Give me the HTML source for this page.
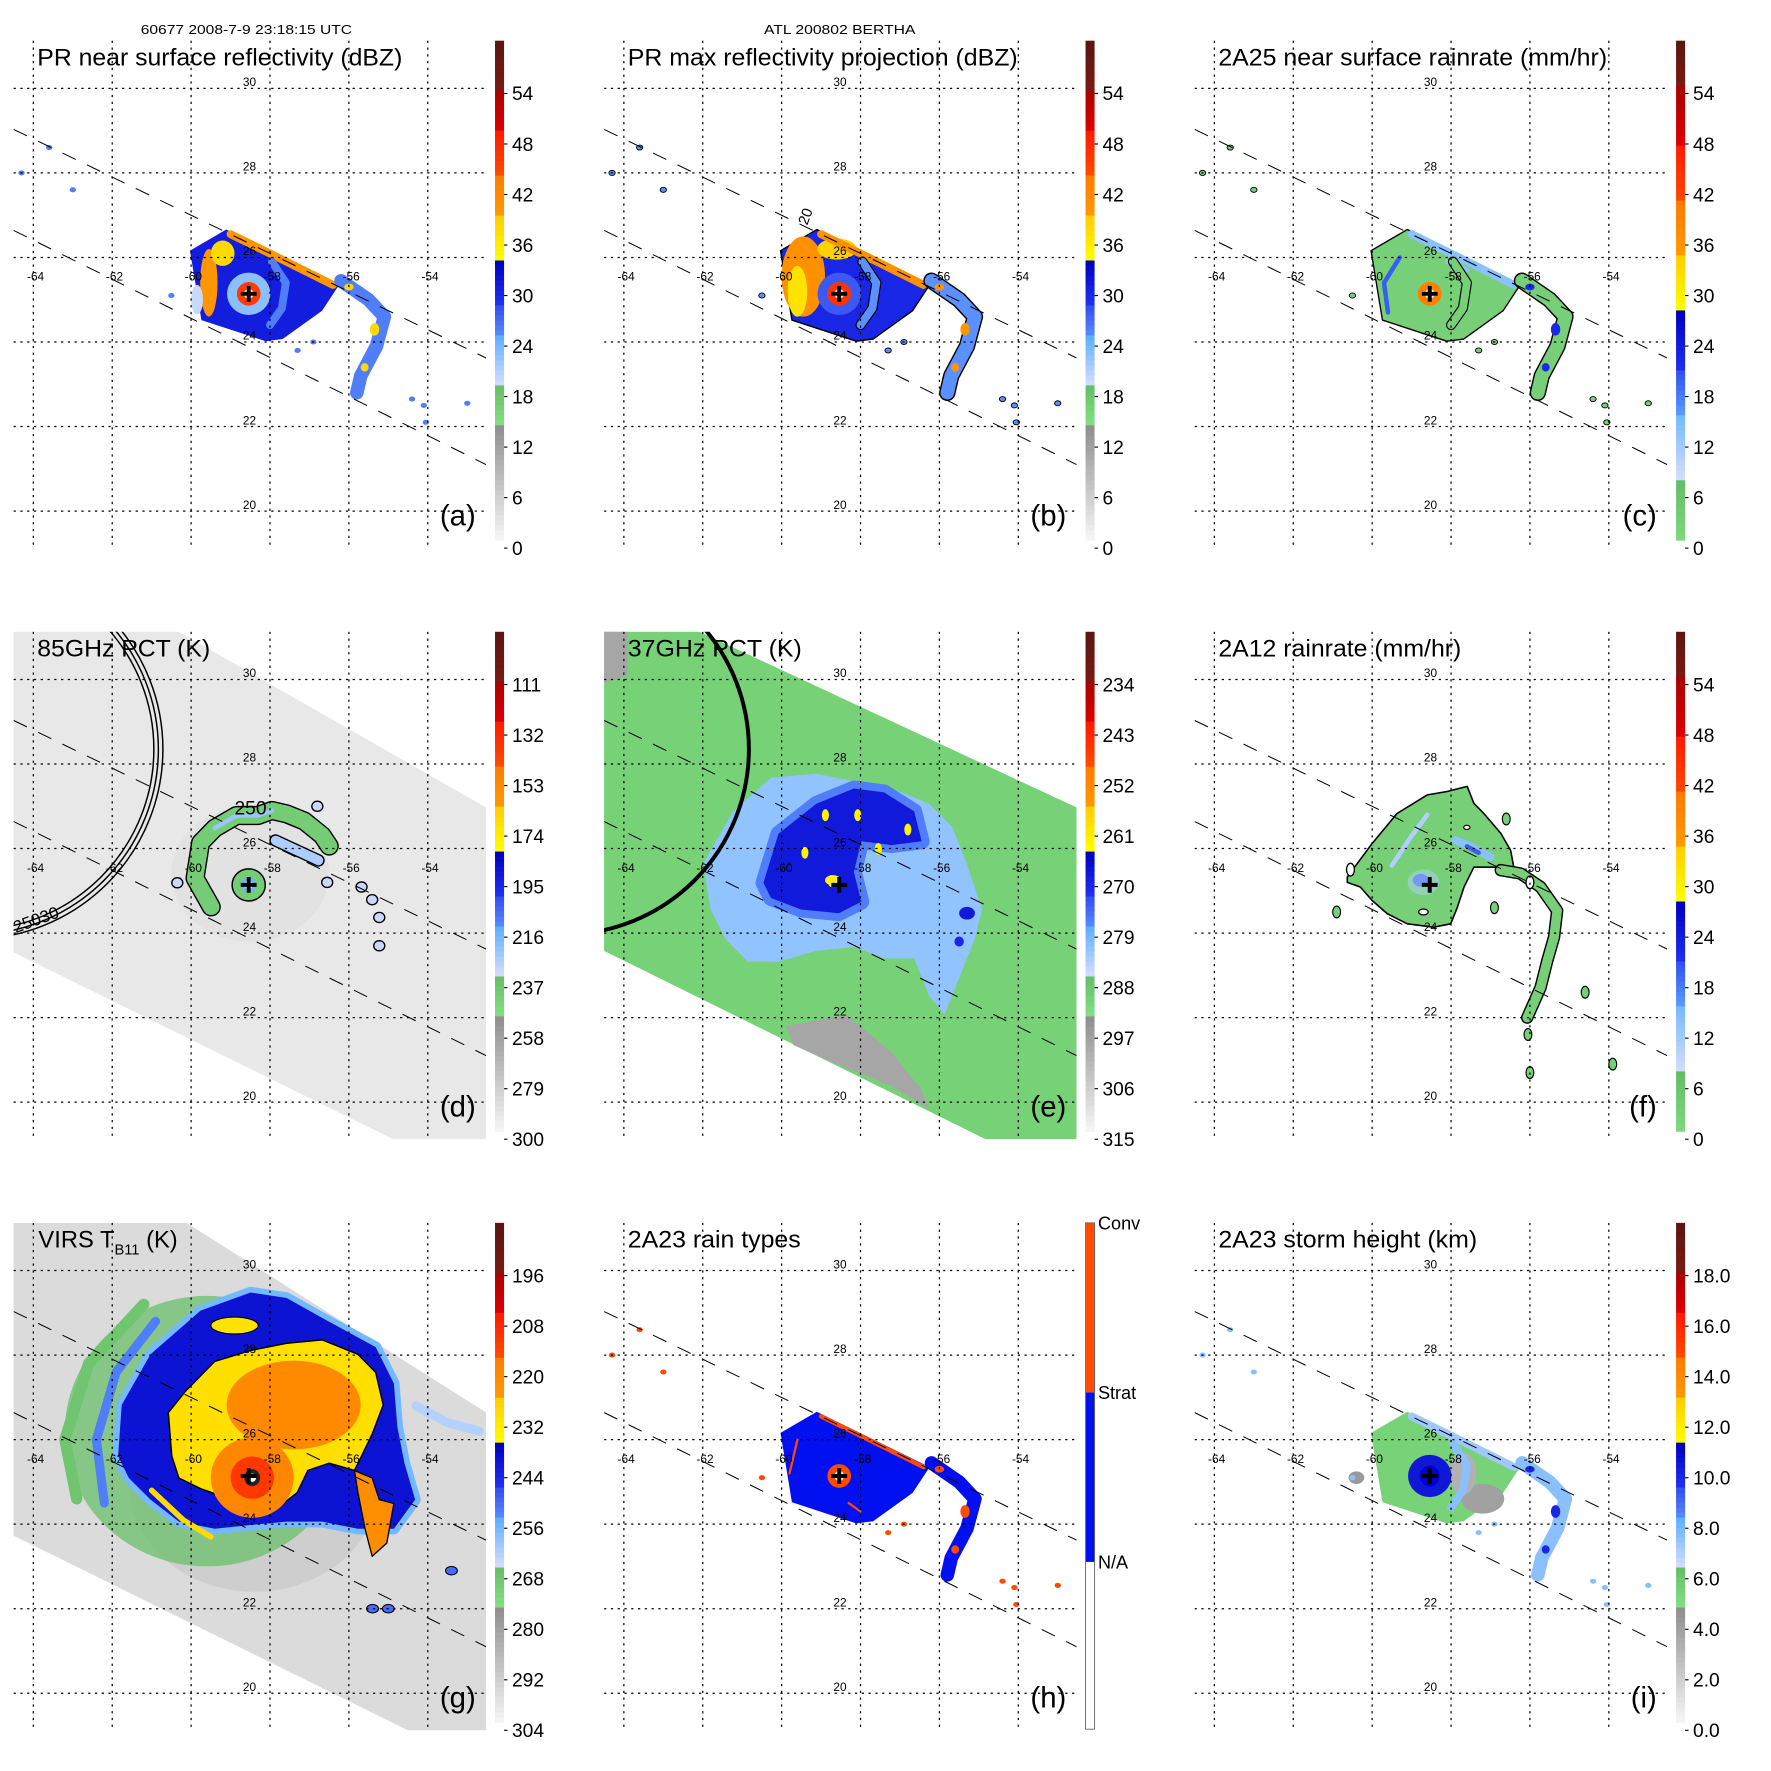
<!DOCTYPE html>
<html><head><meta charset="utf-8"><title>TRMM Bertha 2008 panels</title>
<style>
html,body{margin:0;padding:0;background:#fff;}
svg{display:block;font-family:"Liberation Sans",sans-serif;}
</style></head>
<body>
<svg id="fig" xmlns="http://www.w3.org/2000/svg" width="1771" height="1771" viewBox="0 0 1567 1567"></svg>
<script>
// ---------- tick label arrays (bottom to top) ----------
const ticksDbz = ['0','6','12','18','24','30','36','42','48','54'];
const ticksRain = ['0','6','12','18','24','30','36','42','48','54'];
const ticks85 = ['300','279','258','237','216','195','174','153','132','111'];
const ticks37 = ['315','306','297','288','279','270','261','252','243','234'];
const ticksVirs = ['304','292','280','268','256','244','232','220','208','196'];
const ticksHeight = ['0.0','2.0','4.0','6.0','8.0','10.0','12.0','14.0','16.0','18.0'];
const rainTypeLabels = ['N/A','Strat','Conv'];
const latTicks = [20,22,24,26,28,30];
const lonTicks = [-64,-62,-60,-58,-56,-54];
const stormCenter = [-58.54,25.14];
const swathUpper = [[-64.5,29.03],[-52.52,23.62]];
const swathLower = [[-64.5,26.64],[-52.52,21.10]];

// ---------- storm feature data (lon/lat, value in panel units) ----------
const prBlock = [[-60.03,26.16],[-59.11,26.66],[-56.25,25.35],[-56.68,24.74],[-57.68,24.07],[-58.11,24.02],[-59.74,24.52]];
const prTopEdge = [[-59.0,26.55],[-57.8,26.0],[-56.4,25.35]];
const prRightBand = [[-56.2,25.45],[-55.5,25.0],[-55.1,24.6],[-55.3,23.9],[-55.7,23.2],[-55.8,22.8]];
const prInnerArc = [[-57.95,25.9],[-57.6,25.4],[-57.7,24.8],[-58.0,24.4]];
const prBits = [[-60.5,25.1],[-56.9,24.0],[-57.3,23.8],[-54.4,22.65],[-54.1,22.5],[-53.0,22.55],[-54.05,22.1],[-64.3,28.0],[-63.6,28.6],[-63.0,27.6]];
const f12Blob = [[-60.63,25.33],[-60.0,26.12],[-59.37,26.83],[-58.6,27.27],[-58.1,27.35],[-57.59,27.47],[-57.42,27.07],[-57.17,26.83],[-56.74,26.36],[-56.49,25.96],[-56.41,25.56],[-57.42,25.56],[-57.67,25.09],[-57.84,24.61],[-58.01,24.22],[-58.44,24.14],[-59.11,24.22],[-59.62,24.46],[-60.0,24.77],[-60.3,25.09],[-60.63,25.2]];
const f12Tail = [[-56.74,25.49],[-56.24,25.41],[-55.73,25.09],[-55.31,24.53],[-55.39,23.9],[-55.56,23.35],[-55.73,22.71],[-56.07,22.0]];
const f12Bits = [[-56.9,24.6],[-60.9,24.5],[-56.0,20.7],[-56.05,21.6],[-53.9,20.9],[-54.6,22.6],[-56.6,26.7]];
const d85Arc = [[-59.49,24.62],[-59.9,25.3],[-59.76,26.14],[-59.4,26.48],[-58.85,26.78],[-58.31,26.78],[-57.95,26.9],[-57.58,26.82],[-57.13,26.65],[-56.68,26.31],[-56.5,26.06]];
const d85Streak = [[-57.86,26.19],[-56.77,25.72]];
const d85Bits = [[-55.68,25.09],[-55.41,24.79],[-55.23,24.37],[-55.23,23.7],[-60.35,25.19],[-56.55,25.2],[-56.8,27.0]];
const e37Light = [[-61.99,25.63],[-61.23,26.88],[-60.27,27.68],[-59.12,27.77],[-58.17,27.59],[-57.21,27.42],[-56.26,27.06],[-55.68,26.52],[-55.3,25.63],[-54.92,24.56],[-55.11,23.85],[-55.49,22.96],[-55.87,22.07],[-56.26,22.51],[-56.64,23.4],[-57.4,23.4],[-58.17,23.67],[-59.12,23.58],[-60.08,23.32],[-60.85,23.32],[-61.42,23.85],[-61.8,24.56]];
const e37Core = [[-60.46,25.19],[-60.08,26.35],[-59.12,27.06],[-58.17,27.42],[-57.4,27.33],[-56.64,26.88],[-56.45,26.17],[-57.21,26.08],[-57.98,26.17],[-58.17,25.45],[-57.98,24.74],[-58.55,24.47],[-59.51,24.56],[-60.27,24.83]];
const e37Yellow = [[-58.74,25.23],[-59.41,25.9],[-58.89,26.79],[-58.07,26.79],[-57.55,25.99],[-56.8,26.45]];
const e37Gray = [[-59.89,21.8],[-58.36,22.07],[-57.21,21.18],[-56.45,20.29],[-56.26,19.84],[-57.21,20.38],[-58.64,20.91],[-59.7,21.35]];
const vYellow = [[-60.49,25.61],[-60.58,26.64],[-60.13,27.16],[-59.4,27.85],[-58.49,28.11],[-57.58,28.28],[-56.68,28.36],[-55.77,28.02],[-55.32,27.59],[-55.13,26.82],[-55.41,26.13],[-55.68,25.61],[-55.86,25.27],[-56.5,25.44],[-57.04,25.27],[-57.31,24.75],[-57.77,24.41],[-58.49,24.49],[-59.22,24.66],[-59.76,24.84],[-60.31,25.09]];
const vTongue = [[-55.86,25.27],[-55.41,25.09],[-55.23,24.58],[-54.86,24.49],[-55.04,23.55],[-55.41,23.24],[-55.59,23.89],[-55.77,24.75]];
const vBlue = [[-61.85,25.61],[-61.76,26.82],[-61.03,28.02],[-59.76,29.05],[-58.49,29.48],[-57.58,29.35],[-56.68,28.88],[-55.32,28.19],[-54.86,27.33],[-54.77,26.3],[-54.59,25.44],[-54.32,24.58],[-54.86,23.89],[-55.77,23.89],[-56.68,24.06],[-57.58,24.06],[-58.49,23.98],[-59.4,23.89],[-60.31,24.06],[-61.03,24.58],[-61.58,25.09]];
const vBits = [[-53.4,22.9],[-55.4,22.0],[-55.0,22.0]];
const swathD = [[-64.53,31.13],[-60.32,31.13],[-52.5,26.96],[-52.5,19.12],[-54.87,19.12],[-64.53,23.56]];
const swathE = [[-64.53,31.13],[-62.09,31.13],[-52.52,26.97],[-52.52,19.12],[-54.82,19.12],[-64.53,23.59]];
const swathG = [[-64.53,31.13],[-60.12,31.13],[-52.5,26.63],[-52.5,19.12],[-54.5,19.12],[-64.53,23.74]];
const limbCircle = [-65.53,28.35,4.7];

// ---------- colormaps ----------
const segA=[[-1,1,'#ffffff','#ffffff'],[1,14.5,'#f6f6f6','#8e8e8e'],[14.5,19.5,'#84e184','#66bb66'],[19.5,25,'#d4dcff','#5fb0ff'],[25,29,'#5a90ff','#3048f0'],[29,34,'#2030f0','#0000c0'],[34,39.5,'#ffff00','#ffcc00'],[39.5,44.5,'#ff9900','#ff7a00'],[44.5,49.5,'#ff4a00','#ff1a00'],[49.5,54.5,'#dd0000','#a80000'],[54.5,62,'#781a12','#501510']];
const segC=[[-1,8.2,'#84e184','#66bb66'],[8.2,16,'#d4dcff','#70b8ff'],[16,21,'#5a9aff','#3050f0'],[21,28,'#2030f0','#0000c0'],[28,35,'#ffff00','#ffcc00'],[35,41,'#ff9900','#ff7a00'],[41,48,'#ff4a00','#ff1a00'],[48,55,'#dd0000','#a80000'],[55,62,'#781a12','#501510']];
function hx(c){return [1,3,5].map(i=>parseInt(c.substr(i,2),16));}
function mix(a,b,t){const A=hx(a),B=hx(b);return 'rgb('+A.map((v,i)=>Math.round(v+(B[i]-v)*t)).join(',')+')';}
function cm(seg,l){for(const s of seg){if(l>=s[0]&&l<s[1]){return mix(s[2],s[3],(l-s[0])/(s[1]-s[0]));}}return l<0?seg[0][2]:seg[seg.length-1][3];}

// ---------- geo axes ----------
function X(lon){return 29.5+(lon+64)*34.9;}
function Y(lat){return 78.2+(30-lat)*37.4;}
const NS='http://www.w3.org/2000/svg';
const svg=document.getElementById('fig');
function mk(tag,parent){const e=document.createElementNS(NS,tag);parent.appendChild(e);return e;}
function pts(a){return a.map(p=>X(p[0]).toFixed(1)+','+Y(p[1]).toFixed(1)).join(' ');}

const colX=[0,522.5,1045], rowY=[0,523,1046];

function poly(g,a,fill,stroke,sw){const e=mk('polygon',g);e.setAttribute('points',pts(a));e.setAttribute('fill',fill);if(stroke){e.setAttribute('stroke',stroke);e.setAttribute('stroke-width',sw||1.2);}e.setAttribute('stroke-linejoin','round');return e;}
function line(g,a,color,w){const e=mk('polyline',g);e.setAttribute('points',pts(a));e.setAttribute('fill','none');e.setAttribute('stroke',color);e.setAttribute('stroke-width',w);e.setAttribute('stroke-linecap','round');e.setAttribute('stroke-linejoin','round');return e;}
function ell(g,c,rx,ry,fill,stroke,sw){const e=mk('ellipse',g);e.setAttribute('cx',X(c[0]));e.setAttribute('cy',Y(c[1]));e.setAttribute('rx',rx*34.9);e.setAttribute('ry',ry*37.4);e.setAttribute('fill',fill);if(stroke){e.setAttribute('stroke',stroke);e.setAttribute('stroke-width',sw||1.2);}return e;}

const defs=mk('defs',svg);
const cp=mk('clipPath',defs);cp.setAttribute('id','mapclip');
const cr=mk('rect',cp);cr.setAttribute('x',12);cr.setAttribute('y',36);cr.setAttribute('width',418);cr.setAttribute('height',449);

function drawPR(g,col,mode){
  const A=l=>cm(segA,l), C=l=>cm(segC,l);
  const conv='#ff4a00', strat='#0010f0';
  let base, edge, ring1, ring2, eye='#ffffff', band, bandSpot, outline=null;
  if(mode==='a'){base=A(31);edge=A(40);ring1=A(23);ring2=A(46);band=A(26);bandSpot=A(38);}
  if(mode==='b'){base=A(30);edge=A(41);ring1=A(28);ring2=A(47);band=A(25);bandSpot=A(40);outline='#000';}
  if(mode==='c'){base=C(3);edge=C(14);ring1=C(3);ring2=C(40);band=C(3);bandSpot=C(22);outline='#000';}
  if(mode==='h'){base=strat;edge=conv;ring1=strat;ring2=conv;band=strat;bandSpot=conv;}
  if(mode==='i'){base=A(16.5);edge=A(22);ring1=A(31.5);ring2=A(31.5);band=A(23);bandSpot=A(30);}
  const b=poly(g,prBlock,base,outline,1.2);
  
  
  if(mode==='a'){ell(g,[-59.55,25.4],0.22,0.8,A(40));ell(g,[-59.2,26.1],0.3,0.3,A(38));ell(g,[-59.85,25.0],0.15,0.35,A(20));}
  if(mode==='b'){ell(g,[-59.45,25.55],0.55,0.95,A(41));ell(g,[-59.6,25.2],0.25,0.6,A(37));ell(g,[-58.6,26.2],0.5,0.25,A(39));}
  if(mode==='c'){line(g,[[-59.6,24.7],[-59.7,25.4],[-59.3,26.0]],C(20),4);line(g,[[-58.1,25.9],[-57.6,25.7]],C(14),4);}
  if(mode==='h'){line(g,[[-59.8,25.2],[-59.6,26.0]],conv,2);line(g,[[-58.3,24.5],[-58.0,24.3]],conv,2);}
  if(mode==='i'){ell(g,[-57.2,24.6],0.55,0.35,A(12));ell(g,[-57.7,25.2],0.35,0.5,A(10));ell(g,[-60.4,25.1],0.2,0.15,A(13));}
  line(g,prTopEdge,edge,mode==='h'?4:7);
  ell(g,stormCenter,0.55,0.5,ring1);
  ell(g,stormCenter,0.3,0.28,ring2);
  ell(g,stormCenter,0.12,0.12,eye);
  if(mode==='i'){ell(g,stormCenter,0.25,0.25,'#0000d0');}
  const ia=line(g,prInnerArc,band,mode==='h'?5:7);
  if(outline){const o=line(g,prInnerArc,'#000',9);g.insertBefore(o,ia);}
  const rb=line(g,prRightBand,band,12);
  
  
  if(outline){const o=line(g,prRightBand,'#000',14.5);g.insertBefore(o,rb);}
  ell(g,[-55.35,24.3],0.12,0.15,bandSpot);ell(g,[-55.6,23.4],0.1,0.1,bandSpot);ell(g,[-56.0,25.3],0.12,0.08,bandSpot);
  prBits.forEach(p=>{ell(g,p,0.08,0.06,mode==='h'?conv:(mode==='c'?C(3):band),outline,0.8);});
  if(mode==='b'){const t=mk('text',g);t.setAttribute('x',X(-59.35));t.setAttribute('y',Y(26.75));t.setAttribute('font-size',13);t.setAttribute('transform','rotate(-70 '+X(-59.35)+' '+Y(26.75)+')');t.textContent='20';}
}
function drawD(g){
  const lv=v=>(300-v)/189*54, A=v=>cm(segA,lv(v));
  const s=poly(g,swathD,A(290));
  
  
  ell(g,[-58.5,25.4],2.0,1.6,A(282)).setAttribute('opacity','0.35');
  line(g,d85Arc,'#000',17);line(g,d85Arc,A(240),14.5);
  line(g,d85Arc.slice(3,7),A(222),4);
  line(g,d85Streak,'#000',11);line(g,d85Streak,A(225),8.5);
  ell(g,stormCenter,0.42,0.38,A(240),'#000',1.3);ell(g,stormCenter,0.2,0.18,A(215));ell(g,stormCenter,0.1,0.1,'#fff');
  d85Bits.forEach(p=>ell(g,p,0.14,0.12,A(230),'#000',1.2));
  [-0.5,0,0.5].forEach(dr=>{const c=mk('circle',g);c.setAttribute('cx',X(limbCircle[0]));c.setAttribute('cy',Y(limbCircle[1]));c.setAttribute('r',limbCircle[2]*34.9+dr*8);c.setAttribute('fill','none');c.setAttribute('stroke','#000');c.setAttribute('stroke-width',1.3);});
  const t=mk('text',g);t.setAttribute('x',X(-58.9));t.setAttribute('y',Y(26.8));t.setAttribute('font-size',17);t.textContent='250';
  const t2=mk('text',g);t2.setAttribute('x',14);t2.setAttribute('y',Y(24.0));t2.setAttribute('font-size',15);t2.setAttribute('transform','rotate(-20 14 '+Y(24.0)+')');t2.textContent='25030';
}
function drawE(g){
  const lv=v=>(315-v)/81*54, A=v=>cm(segA,lv(v));
  const s=poly(g,swathE,A(290));
  
  
  poly(g,[[-64.53,31.13],[-63.9,31.13],[-63.9,30.1],[-64.53,29.9]],A(298));
  poly(g,e37Gray,A(298));
  poly(g,e37Light,A(281));
  poly(g,e37Core,A(275),A(276),14);
  poly(g,e37Core,A(268));
  ell(g,[-55.3,24.47],0.2,0.15,A(268));ell(g,[-55.5,23.8],0.12,0.12,A(270));
  e37Yellow.forEach(p=>ell(g,p,0.09,0.14,A(262)));
  ell(g,[-58.7,25.25],0.2,0.12,A(262));
  const c=mk('circle',g);c.setAttribute('cx',X(limbCircle[0]));c.setAttribute('cy',Y(limbCircle[1]));c.setAttribute('r',limbCircle[2]*34.9);c.setAttribute('fill','none');c.setAttribute('stroke','#000');c.setAttribute('stroke-width',3.5);
}
function drawF(g){
  const C=v=>cm(segC,v);
  const b=poly(g,f12Blob,C(3),'#000',1.4);
  
  
  ell(g,[-58.77,25.25],0.2,0.15,C(20));ell(g,[-58.7,25.2],0.4,0.3,C(11)).setAttribute('opacity','0.5');
  line(g,[[-57.9,26.2],[-57.4,26.0],[-57.0,25.8]],C(14),7);line(g,[[-57.6,26.05],[-57.3,25.9]],C(20),4);
  line(g,[[-59.5,25.6],[-59.0,26.3],[-58.6,26.8]],C(11),4);
  ell(g,[-58.7,24.5],0.12,0.07,'#fff','#000',1.1);ell(g,[-57.6,26.5],0.08,0.05,'#fff','#000',1);
  line(g,f12Tail,'#000',11);line(g,f12Tail,C(3),8.5);
  f12Bits.forEach(p=>ell(g,p,0.1,0.14,C(3),'#000',1));
  ell(g,[-60.55,25.5],0.1,0.15,'#fff','#000',1.2);ell(g,[-56.0,25.2],0.1,0.15,'#fff','#000',1.2);
}
function drawG(g){
  const lv=v=>(304-v)/108*54, A=v=>cm(segA,lv(v));
  const s=poly(g,swathG,A(295));
  
  
  ell(g,[-58.4,25.0],3.2,2.6,A(286)).setAttribute('opacity','0.35');
  ell(g,[-59.6,26.2],3.6,3.2,A(266)).setAttribute('opacity','0.75');
  line(g,[[-62.9,24.6],[-63.2,26.0],[-62.6,27.8],[-61.2,29.2]],A(268),10);
  line(g,[[-62.2,24.5],[-62.4,26.0],[-61.9,27.6],[-60.9,28.8]],A(252),8);
  line(g,[[-54.3,26.8],[-53.5,26.4],[-52.7,26.2]],A(262),8);
  poly(g,vBlue,A(250),A(256),10);
  poly(g,vBlue,A(240));
  line(g,[[-61.0,24.8],[-60.2,24.1],[-59.5,23.7]],A(228),5);
  ell(g,[-58.9,28.7],0.6,0.2,A(230),'#000',1);
  const y=poly(g,vYellow,A(229),'#000',1.3);
  
  
  ell(g,[-57.4,26.82],1.7,1.05,A(220));
  ell(g,[-58.45,25.1],1.05,0.95,A(219));
  ell(g,[-58.45,25.1],0.55,0.5,A(211));
  ell(g,[-58.45,25.1],0.2,0.2,'#222');ell(g,[-58.45,25.1],0.1,0.1,'#fff');
  poly(g,vTongue,A(221),'#000',1.2);
  vBits.forEach(p=>ell(g,p,0.15,0.1,A(250),'#000',1));
}
function drawH(g){drawPR(g,1,'h');}

const panels=[
 {id:'a',col:0,row:0,title:'PR near surface reflectivity (dBZ)',tl:323,ticks:ticksDbz,seg:segA,fn:g=>drawPR(g,0,'a')},
 {id:'b',col:1,row:0,title:'PR max reflectivity projection (dBZ)',tl:345,ticks:ticksDbz,seg:segA,fn:g=>drawPR(g,1,'b')},
 {id:'c',col:2,row:0,title:'2A25 near surface rainrate (mm/hr)',tl:344,ticks:ticksRain,seg:segC,fn:g=>drawPR(g,2,'c')},
 {id:'d',col:0,row:1,title:'85GHz PCT (K)',tl:153,ticks:ticks85,seg:segA,fn:drawD},
 {id:'e',col:1,row:1,title:'37GHz PCT (K)',tl:154,ticks:ticks37,seg:segA,fn:drawE},
 {id:'f',col:2,row:1,title:'2A12 rainrate (mm/hr)',tl:215,ticks:ticksRain,seg:segC,fn:drawF},
 {id:'g',col:0,row:2,title:'VIRS',tl:0,ticks:ticksVirs,seg:segA,fn:drawG},
 {id:'h',col:1,row:2,title:'2A23 rain types',tl:153,ticks:null,seg:null,fn:drawH},
 {id:'i',col:2,row:2,title:'2A23 storm height (km)',tl:229,ticks:ticksHeight,seg:segA,fn:g=>drawPR(g,2,'i')}
];

panels.forEach(p=>{
  const pg=mk('g',svg);
  pg.setAttribute('transform','translate('+colX[p.col]+','+rowY[p.row]+')');
  
  
  const map=mk('g',pg);
  map.setAttribute('clip-path','url(#mapclip)');
  
  
  p.fn(map);
  const grid=mk('g',map);
  
  
  lonTicks.forEach(lon=>{const l=mk('line',grid);l.setAttribute('x1',X(lon));l.setAttribute('x2',X(lon));l.setAttribute('y1',36);l.setAttribute('y2',485);l.setAttribute('stroke','#000');l.setAttribute('stroke-width',1.1);l.setAttribute('stroke-dasharray','2,4');});
  latTicks.forEach(lat=>{const l=mk('line',grid);l.setAttribute('x1',12);l.setAttribute('x2',430);l.setAttribute('y1',Y(lat));l.setAttribute('y2',Y(lat));l.setAttribute('stroke','#000');l.setAttribute('stroke-width',1.1);l.setAttribute('stroke-dasharray','2,4');});
  [swathUpper,swathLower].forEach(s=>{const l=line(map,s,'#000',0.9);l.setAttribute('stroke-dasharray','13,11');l.setAttribute('stroke-linecap','butt');});
  latTicks.forEach(lat=>{const t=mk('text',map);t.setAttribute('x',X(-58.52));t.setAttribute('y',Y(lat)-2);t.setAttribute('font-size',10.5);t.setAttribute('text-anchor','middle');t.textContent=String(lat);});
  lonTicks.forEach(lon=>{const t=mk('text',map);t.setAttribute('x',X(lon)+2);t.setAttribute('y',Y(25.45));t.setAttribute('font-size',10.5);t.setAttribute('text-anchor','middle');t.textContent=String(lon);});
  const cx=X(stormCenter[0]), cy=Y(stormCenter[1]);
  const cross=mk('path',map);
  cross.setAttribute('d','M'+(cx-7)+' '+cy+'H'+(cx+7)+'M'+cx+' '+(cy-7)+'V'+(cy+7));
  cross.setAttribute('stroke','#000');cross.setAttribute('stroke-width',3.5);
  
  
  const tt=mk('text',pg);
  tt.setAttribute('x',33);tt.setAttribute('y',58);tt.setAttribute('font-size',21);
  
  
  if(p.id==='g'){
    tt.setAttribute('x',34);
    const a=mk('tspan',tt);a.textContent='VIRS T';
    const b=mk('tspan',tt);b.setAttribute('font-size',13);b.setAttribute('dy',6);b.textContent='B11';
    const c=mk('tspan',tt);c.setAttribute('dy',-6);c.textContent=' (K)';
  } else {tt.textContent=p.title;tt.setAttribute('textLength',p.tl);tt.setAttribute('lengthAdjust','spacingAndGlyphs');}
  const lt=mk('text',pg);lt.setAttribute('x',421);lt.setAttribute('y',465);lt.setAttribute('font-size',26);lt.setAttribute('text-anchor','end');lt.textContent='('+p.id+')';
  
  
  const cb=mk('g',pg);
  
  
  if(p.seg){
    const n=100, top=36, bot=478, h=(bot-top)/n;
    for(let k=0;k<n;k++){
      const y0=top+k*h, ym=y0+h/2, lvl=(485-ym)/44.7*6;
      const r=mk('rect',cb);r.setAttribute('x',438);r.setAttribute('y',y0.toFixed(2));r.setAttribute('width',8);r.setAttribute('height',(h+0.4).toFixed(2));r.setAttribute('fill',cm(p.seg,lvl));
    }
    p.ticks.forEach((lab,i)=>{
      const ty=485-i*44.7;
      const tk=mk('line',cb);tk.setAttribute('x1',446);tk.setAttribute('x2',449);tk.setAttribute('y1',ty);tk.setAttribute('y2',ty);tk.setAttribute('stroke','#000');
      const t=mk('text',cb);t.setAttribute('x',453);t.setAttribute('y',ty+6);t.setAttribute('font-size',17);t.textContent=lab;
      
      
    });
  } else {
    const bands=[[336,484,'#ffffff'],[186,336,'#0010f0'],[36,186,'#ff4a00']];
    bands.forEach(b=>{const r=mk('rect',cb);r.setAttribute('x',438);r.setAttribute('y',b[0]);r.setAttribute('width',8);r.setAttribute('height',b[1]-b[0]);r.setAttribute('fill',b[2]);});
    const o=mk('rect',cb);o.setAttribute('x',438);o.setAttribute('y',36);o.setAttribute('width',8);o.setAttribute('height',448);o.setAttribute('fill','none');o.setAttribute('stroke','#666');o.setAttribute('stroke-width',0.8);
    rainTypeLabels.forEach((lab,i)=>{const t=mk('text',cb);t.setAttribute('x',449);t.setAttribute('y',342-i*150);t.setAttribute('font-size',16);t.textContent=lab;
      
      });
  }
});
const h1=mk('text',svg);h1.setAttribute('x',218);h1.setAttribute('y',30);h1.setAttribute('font-size',11.5);h1.setAttribute('text-anchor','middle');h1.setAttribute('textLength',187);h1.setAttribute('lengthAdjust','spacingAndGlyphs');h1.textContent='60677 2008-7-9 23:18:15 UTC';


const h2=mk('text',svg);h2.setAttribute('x',743);h2.setAttribute('y',30);h2.setAttribute('font-size',11.5);h2.setAttribute('text-anchor','middle');h2.setAttribute('textLength',134);h2.setAttribute('lengthAdjust','spacingAndGlyphs');h2.textContent='ATL 200802 BERTHA';


</script>
</body></html>
